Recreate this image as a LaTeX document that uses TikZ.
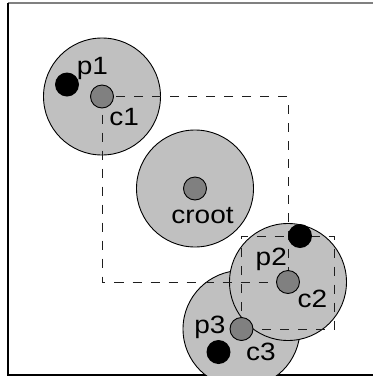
\documentclass[tikz,border=0pt]{standalone}
\usepackage{fontspec}
\setmainfont{Liberation Sans}[FakeStretch=1.12]
\begin{document}
\begin{tikzpicture}[x=1pt,y=-1pt,
  cluster/.style={circle, draw=black, line width=0.9pt, fill=cellgray, minimum size=117pt, inner sep=0pt},
  centre/.style={circle, draw=black, line width=0.9pt, fill=midgray, minimum size=23pt, inner sep=0pt},
  point/.style={circle, fill=black, minimum size=24pt, inner sep=0pt},
  lbl/.style={anchor=base, inner sep=0pt, font=\fontsize{25}{29}\selectfont},
  bbox/.style={draw=dashgray, line width=1pt, dash pattern=on 9pt off 9pt}]
\definecolor{cellgray}{RGB}{192,192,192}
\definecolor{midgray}{RGB}{128,128,128}
\definecolor{dashgray}{RGB}{30,30,30}
\useasboundingbox (0,0) rectangle (373,376);
% frame
\draw[line width=2pt, gray] (8,3) -- (373,3);
\draw[line width=1.3pt, black] (8,3) -- (8,375) -- (373,375);

% cluster centres
\coordinate (k1) at (102,96.5);
\coordinate (kr) at (195,188.5);
\coordinate (k2) at (288,282);
\coordinate (k3) at (241.5,329);
\coordinate (q2) at (334,236);

% clusters
\node[cluster] (b1) at (k1) {};
\node[cluster] (br) at (kr) {};
\node[cluster] (b3) at (k3) {};
\node[cluster] (b2) at (k2) {};

% bounding boxes
\draw[bbox] (k1) rectangle (k2);
\draw[bbox] (k3) rectangle (q2);

% points and centres
\node[point] (p1) at (67,84.5) {};
\node[point] (p2) at (300,236) {};
\node[point] (p3) at (218.5,352) {};
\node[centre] (c1) at (k1) {};
\node[centre] (croot) at (kr) {};
\node[centre] (c2) at (k2) {};
\node[centre] (c3) at (k3) {};

% labels
\node[lbl] (lp1) at (92.4,74) {p1};
\node[lbl] (lc1) at (124.2,125) {c1};
\node[lbl] (lcr) at (202.5,223) {croot};
\node[lbl] (lp2) at (271.3,265) {p2};
\node[lbl] (lc2) at (312.3,307) {c2};
\node[lbl] (lp3) at (210,333) {p3};
\node[lbl] (lc3) at (261,360) {c3};
\end{tikzpicture}
\end{document}
